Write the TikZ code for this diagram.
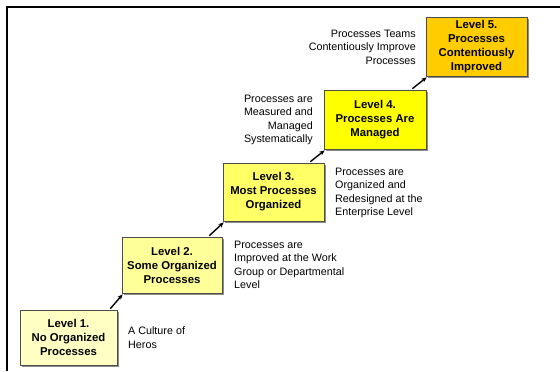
\documentclass[tikz,border=0pt]{standalone}
\usepackage{fontspec}
\setmainfont{Liberation Sans}
\usetikzlibrary{shadows,arrows.meta,calc}
\definecolor{lvA}{HTML}{FFFFC4}
\definecolor{lvB}{HTML}{FFFF99}
\definecolor{lvC}{HTML}{FFFF66}
\definecolor{lvD}{HTML}{FFFF00}
\definecolor{lvE}{HTML}{FFCC00}
\begin{document}
\begin{tikzpicture}[x=1bp,y=-1bp,
  levelbox/.style={draw=black!70, line width=0.6bp, inner sep=0pt, align=center,
    font=\fontsize{11.4}{14}\selectfont\bfseries,
    drop shadow={shadow xshift=2bp, shadow yshift=-2bp, fill=black!45, opacity=1}},
  note/.style={inner sep=0pt, font=\fontsize{10.8}{13.6}\selectfont},
  stair/.style={line width=1.4bp, -{Stealth[length=5.5bp,width=4.5bp]}}]
\useasboundingbox (0,0) rectangle (560,371);
\fill[white] (0,0) rectangle (560,371);
\draw[line width=2.2bp] (7,371) -- (7,7) -- (560,7);

\node[levelbox, fill=lvA, minimum width=97bp, minimum height=55bp] (b1) at (68.5,337.5)
  {Level 1.\\No Organized\\Processes};
\node[levelbox, fill=lvB, minimum width=100bp, minimum height=56bp] (b2) at (172,265)
  {Level 2.\\Some Organized\\Processes};
\node[levelbox, fill=lvC, minimum width=101bp, minimum height=58bp] (b3) at (273.5,192)
  {Level 3.\\Most Processes\\Organized};
\node[levelbox, fill=lvD, minimum width=102bp, minimum height=59bp] (b4) at (375,119.5)
  {Level 4.\\Processes Are\\Managed};
\node[levelbox, fill=lvE, minimum width=101bp, minimum height=59bp] (b5) at (476.5,46.5)
  {Level 5.\\Processes\\Contentiously\\Improved};

\node[note, anchor=west, align=left] (t1) at (128,337.5) {A Culture of\\Heros};
\node[note, anchor=west, align=left] (t2) at (234,265) {Processes are\\Improved at the Work\\Group or Departmental\\Level};
\node[note, anchor=west, align=left] (t3) at (335,193) {Processes are\\Organized and\\Redesigned at the\\Enterprise Level};
\node[note, anchor=east, align=right] (t4) at (313,120) {Processes are\\Measured and\\Managed\\Systematically};
\node[note, anchor=east, align=right] (t5) at (416,47) {Processes Teams\\Contentiously Improve\\Processes};

\draw[stair] ($(b1.north east)+(-7bp,1bp)$) -- ($(b2.south west)+(1bp,-1bp)$);
\draw[stair] ($(b2.north east)+(-13bp,1bp)$) -- ($(b3.south west)+(1bp,-1bp)$);
\draw[stair] ($(b3.north east)+(-14bp,1bp)$) -- ($(b4.south west)+(1bp,-1bp)$);
\draw[stair] ($(b4.north east)+(-14bp,1bp)$) -- ($(b5.south west)+(1bp,-1bp)$);
\end{tikzpicture}
\end{document}
